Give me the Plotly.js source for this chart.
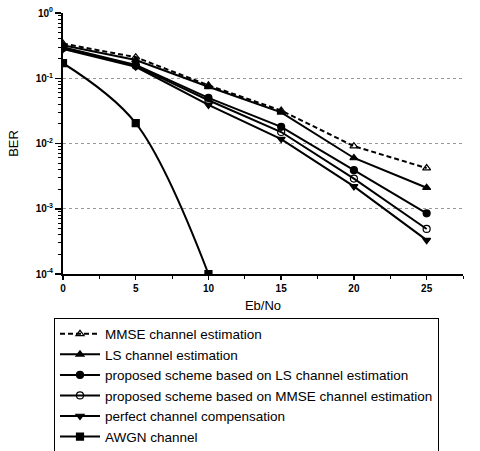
<!DOCTYPE html>
<html>
<head>
<meta charset="utf-8">
<script src="https://cdn.plot.ly/plotly-3.0.1.min.js"></script>
<style>html,body{margin:0;padding:0;background:#fff;}#chart{width:480px;height:451px;}</style>
</head>
<body>
<div id="chart"></div>
<script>
const ebno = [0, 5, 10, 15, 20, 25];
const awgnEbno = [0, 5, 10];

const berMMSE = [0.34, 0.21, 0.078, 0.032, 0.0091, 0.0042];
const berLS = [0.32, 0.19, 0.074, 0.030, 0.0060, 0.0021];
const berPropLS = [0.30, 0.16, 0.050, 0.018, 0.0039, 0.00085];
const berPropMMSE = [0.29, 0.155, 0.046, 0.015, 0.0029, 0.00049];
const berPerfect = [0.28, 0.15, 0.039, 0.0117, 0.0022, 0.00033];
const berAWGN = [0.17, 0.0205, 0.0001];

const names = [
  "MMSE channel estimation",
  "LS channel estimation",
  "proposed scheme based on LS channel estimation",
  "proposed scheme based on MMSE channel estimation",
  "perfect channel compensation",
  "AWGN channel"
];

const yTickVals = [1, 0.1, 0.01, 0.001, 0.0001];
const yTickText = ["10<sup>0</sup>", "10<sup>-1</sup>", "10<sup>-2</sup>", "10<sup>-3</sup>", "10<sup>-4</sup>"];

function tr(x, y, name, sym, dash, shape) {
  return {
    x: x, y: y, name: name, type: "scatter", mode: "lines+markers",
    line: {color: "#000", width: 2, dash: dash, shape: shape || "linear"},
    marker: {symbol: sym, size: 7, color: "#000", line: {color: "#000", width: 1.2}}
  };
}

const data = [
  tr(ebno, berMMSE, names[0], "triangle-up-open", "5px,3px"),
  tr(ebno, berLS, names[1], "triangle-up", "solid"),
  tr(ebno, berPropLS, names[2], "circle", "solid"),
  tr(ebno, berPropMMSE, names[3], "circle-open", "solid"),
  tr(ebno, berPerfect, names[4], "triangle-down", "solid"),
  tr(awgnEbno, berAWGN, names[5], "square", "solid", "spline")
];

const layout = {
  width: 480, height: 451,
  margin: {l: 63, r: 17, t: 13, b: 177, autoexpand: false},
  paper_bgcolor: "#fff", plot_bgcolor: "#fff",
  font: {family: "Arial, Liberation Sans, sans-serif", color: "#000"},
  showlegend: true,
  xaxis: {
    range: [0, 27.5], tickmode: "linear", tick0: 0, dtick: 5,
    ticks: "outside", ticklen: 4, tickwidth: 1.5, tickcolor: "#000",
    showline: true, linecolor: "#000", linewidth: 2,
    showgrid: false, zeroline: false,
    tickfont: {size: 10, weight: "bold"},
    minor: {tickmode: "linear", tick0: 0, dtick: 2.5, ticks: "outside", ticklen: 3, tickwidth: 1, tickcolor: "#000", showgrid: false},
    title: {text: "Eb/No", font: {size: 13}, standoff: 8}
  },
  yaxis: {
    type: "log", range: [-4, 0],
    tickmode: "array", tickvals: yTickVals, ticktext: yTickText,
    ticks: "outside", ticklen: 6, tickwidth: 1.5, tickcolor: "#000",
    showline: true, linecolor: "#000", linewidth: 2,
    showgrid: true, gridcolor: "#999", griddash: "dot", gridwidth: 1,
    zeroline: false,
    tickfont: {size: 10, weight: "bold"},
    minor: {dtick: "D1", ticks: "outside", ticklen: 3, tickwidth: 1, tickcolor: "#000", showgrid: false},
    title: {text: "BER", font: {size: 13}, standoff: 14}
  },
  legend: {
    x: -0.0225, xanchor: "left", yref: "container", y: 0.296, yanchor: "top",
    bordercolor: "#000", borderwidth: 1, bgcolor: "#fff",
    font: {size: 13.5, color: "#000"}, itemwidth: 40, tracegroupgap: 0
  }
};

Plotly.newPlot("chart", data, layout, {displayModeBar: false, staticPlot: true});
</script>
</body>
</html>
